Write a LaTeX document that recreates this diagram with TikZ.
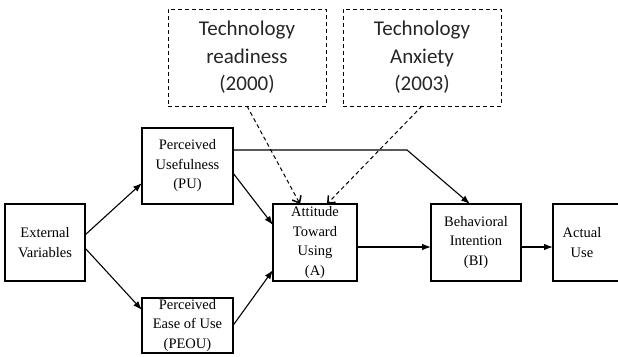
\documentclass[tikz,border=0pt]{standalone}
\usepackage{fontspec}
\setmainfont{Liberation Serif}
\newfontfamily\calib{Carlito}
\usetikzlibrary{arrows.meta}
\begin{document}
\begin{tikzpicture}[x=1pt,y=-1pt,
  box/.style={draw,line width=1.4pt,inner sep=0pt,outer sep=0pt,align=center,
    font=\fontsize{14.5}{19.5}\selectfont},
  dbox/.style={draw,line width=1pt,dash pattern=on 4pt off 3pt,inner sep=0pt,outer sep=0pt,
    align=center,minimum width=158pt,minimum height=97pt,text=black!85,
    font=\calib\fontsize{21}{27.5}\selectfont},
  arr/.style={line width=1.1pt,-{Latex[length=9pt,width=6.5pt]}},
  darr/.style={line width=1pt,dash pattern=on 4pt off 3pt,-{Straight Barb[length=6pt,width=10pt,line width=1.5pt]}}
]
\useasboundingbox (0,0) rectangle (618,356);
\fill[white] (0,0) rectangle (618,356);

\node[box,minimum width=80pt,minimum height=77pt] (ev) at (45,242.5) {External\\Variables};
\node[box,minimum width=91pt,minimum height=76pt] (pu) at (187.5,166) {Perceived\\Usefulness\\(PU)};
\node[box,minimum width=91pt,minimum height=55pt] (peou) at (187.5,325.5) {Perceived\\Ease of Use\\(PEOU)};
\node[box,minimum width=84pt,minimum height=77pt] (a) at (315,242.5) {Attitude\\Toward\\Using\\(A)};
\node[box,minimum width=90pt,minimum height=77pt] (bi) at (476,242.5) {Behavioral\\Intention\\(BI)};
\node[box,minimum width=71pt,minimum height=77pt] (au) at (588.5,242.5) {};
\node[font=\fontsize{14.5}{19.5}\selectfont,align=center,inner sep=0pt] (aut) at (582,242.5) {Actual\\Use};

\node[dbox] (tr) at (247,57.5) {Technology\\readiness\\(2000)};
\node[dbox] (ta) at (422,57.5) {Technology\\Anxiety\\(2003)};

\coordinate (bend) at (407,150);

\draw[arr] ([yshift=7.5pt]ev.east) -- ([yshift=-17pt]pu.west);
\draw[arr] ([yshift=-5.5pt]ev.east) -- ([yshift=15.5pt]peou.west);
\draw[arr] ([yshift=-7pt]pu.east) -- ([yshift=17.5pt]a.west);
\draw[arr] (peou.east) -- ([yshift=-27.5pt]a.west);
\draw[arr] ([yshift=16pt]pu.east) -- (bend) -- ([xshift=-6pt]bi.north);
\draw[arr] ([yshift=-4.5pt]a.east) -- ([yshift=-4.5pt]bi.west);
\draw[arr] ([yshift=-4.5pt]bi.east) -- ([yshift=-4.5pt]au.west);

\draw[darr] (tr.south) -- ([xshift=-15pt]a.north);
\draw[darr] (ta.south) -- ([xshift=12pt]a.north);
\end{tikzpicture}
\end{document}
